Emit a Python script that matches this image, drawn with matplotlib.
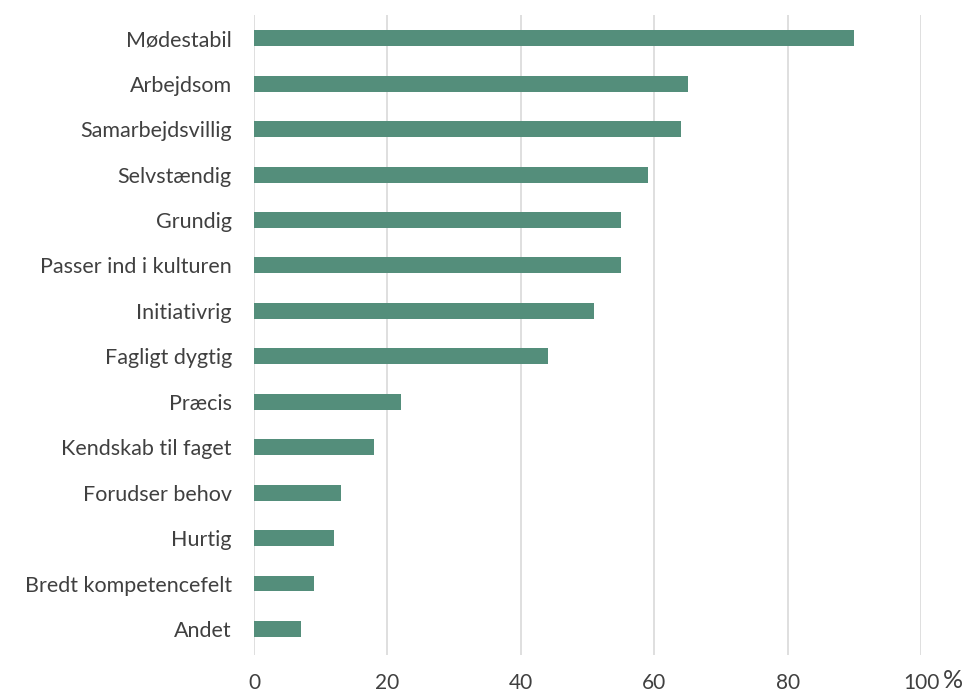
import matplotlib
matplotlib.use("Agg")
import matplotlib.pyplot as plt

# Data
labels = [
    "Mødestabil",
    "Arbejdsom",
    "Samarbejdsvillig",
    "Selvstændig",
    "Grundig",
    "Passer ind i kulturen",
    "Initiativrig",
    "Fagligt dygtig",
    "Præcis",
    "Kendskab til faget",
    "Forudser behov",
    "Hurtig",
    "Bredt kompetencefelt",
    "Andet",
]
values = [90, 65, 64, 59, 55, 55, 51, 44, 22, 18, 13, 12, 9, 7]
xticks = [0, 20, 40, 60, 80, 100]

plt.rcParams["font.family"] = ["Lato", "DejaVu Sans"]

fig = plt.figure(figsize=(9.71, 6.93), dpi=100)
ax = fig.add_axes([0.2616, 0.055, 0.687, 0.923])

ypos = list(range(len(labels)))
ax.barh(ypos, values, height=0.35, color="#548E7B", zorder=3)

ax.set_xlim(0, 100)
ax.set_ylim(13.57, -0.506)
ax.set_yticks(ypos)
ax.set_yticklabels(labels, fontsize=15.5, color="#404040")
ax.set_xticks(xticks)
ax.set_xticklabels([str(t) for t in xticks], fontsize=15, color="#404040")
ax.tick_params(axis="both", length=0)
ax.tick_params(axis="x", pad=13)
ax.tick_params(axis="y", pad=16)

ax.grid(axis="x", color="#D9D9D9", linewidth=1.2, zorder=0)
for s in ax.spines.values():
    s.set_visible(False)

ax.text(1.047, -0.04, "%", transform=ax.transAxes, fontsize=18,
        color="#404040", ha="center", va="center")

fig.savefig("out.png", dpi=100)
